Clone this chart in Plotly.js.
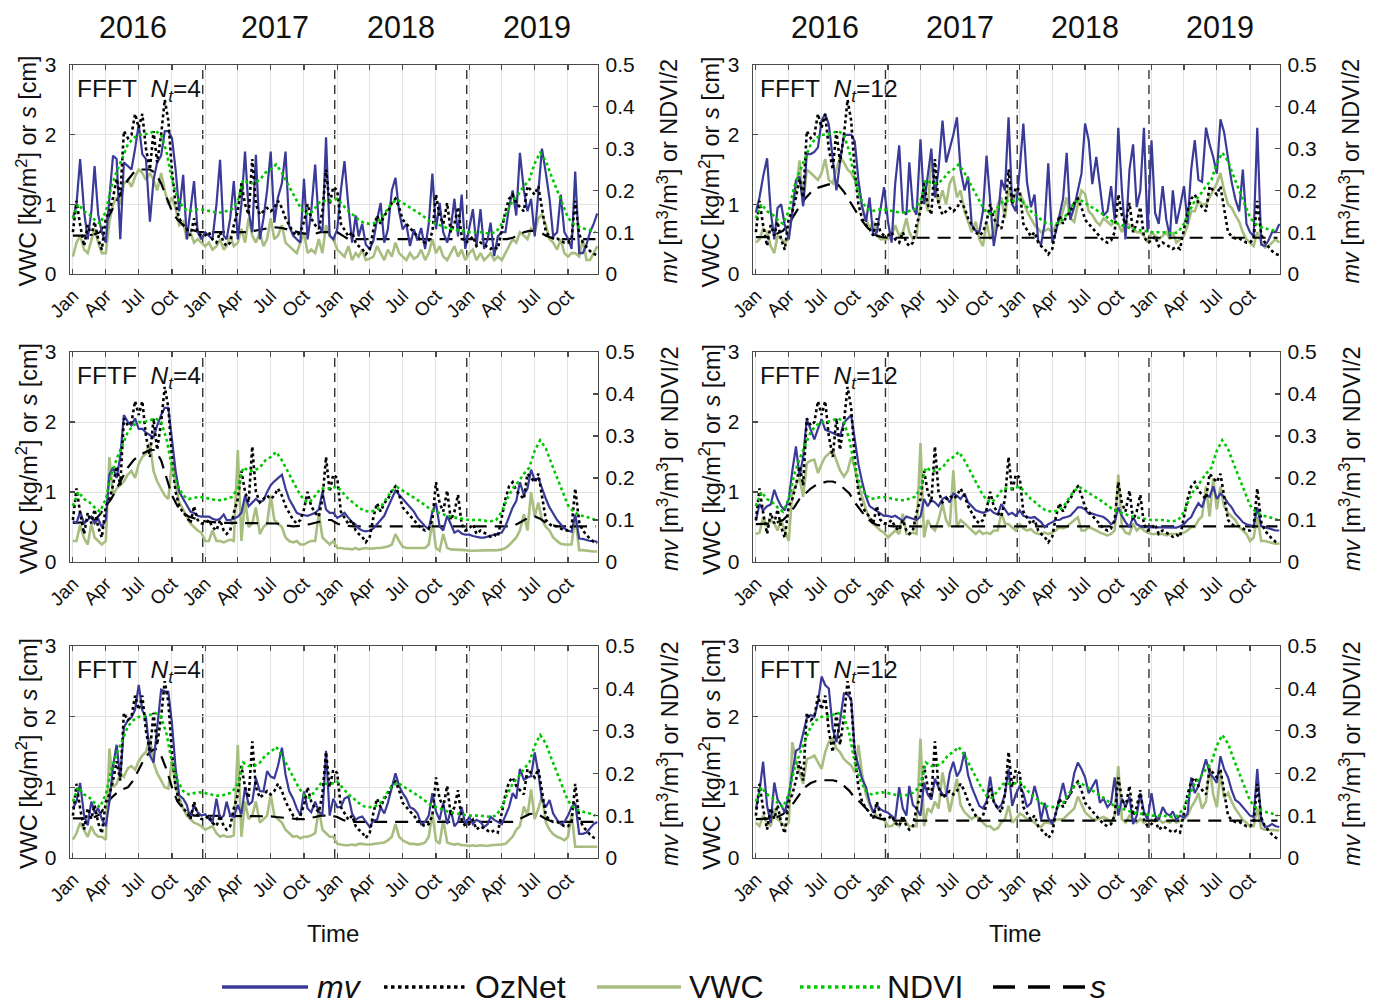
<!DOCTYPE html>
<html><head><meta charset="utf-8">
<script src="https://cdn.plot.ly/plotly-3.0.1.min.js"></script>
<style>body{margin:0;background:#fff}#chart{width:1379px;height:1005px}</style>
</head><body><div id="chart"></div>
<script>
// ---------- time grids (10-day and half-month steps, 2016-2019) ----------
const YEARS = [2016, 2017, 2018, 2019];
const MONTH_TICKS = ['Jan', 'Apr', 'Jul', 'Oct'];
function grid(days){const a=[];for(const y of YEARS)for(let m=1;m<=12;m++)for(const d of days)a.push(y+'-'+String(m).padStart(2,'0')+'-'+String(d).padStart(2,'0'));return a;}
const T10 = grid([1, 11, 21]);   // mv, OzNet, VWC
const T15 = grid([1, 16]);       // NDVI, s

// ---------- shared series (right axis, m3/m3) ----------
const OZNET = [
 0.100,0.175,0.117,0.067,0.117,0.092,0.125,0.083,0.058,0.133,0.150,0.183,0.228,0.183,0.342,0.325,0.333,0.383,0.350,0.383,0.300,0.250,0.342,0.267,0.333,0.417,0.367,0.245,0.167,0.133,0.117,0.108,0.092,0.133,0.100,0.092,
 0.092,0.100,0.083,0.075,0.100,0.075,0.067,0.075,0.117,0.150,0.217,0.167,0.142,0.275,0.167,0.142,0.150,0.158,0.150,0.158,0.175,0.158,0.133,0.117,0.100,0.092,0.100,0.125,0.167,0.133,0.117,0.108,0.150,0.250,0.167,0.208,
 0.200,0.120,0.107,0.090,0.100,0.075,0.067,0.060,0.047,0.060,0.107,0.140,0.120,0.140,0.150,0.170,0.180,0.160,0.130,0.120,0.110,0.100,0.090,0.080,0.075,0.080,0.100,0.190,0.140,0.120,0.170,0.100,0.120,0.160,0.090,0.075,
 0.080,0.090,0.067,0.075,0.070,0.065,0.060,0.065,0.060,0.107,0.150,0.180,0.190,0.170,0.160,0.150,0.210,0.200,0.190,0.210,0.160,0.100,0.090,0.085,0.085,0.080,0.075,0.075,0.085,0.175,0.095,0.075,0.065,0.055,0.048,0.045];
const NDVI_HALF = [
 0.133,0.167,0.150,0.142,0.130,0.120,0.150,0.208,0.245,0.275,0.310,0.325,0.333,0.333,0.338,0.342,0.333,0.292,0.225,0.183,0.158,0.150,0.153,0.155,
 0.153,0.150,0.147,0.147,0.150,0.155,0.175,0.225,0.217,0.217,0.225,0.242,0.250,0.262,0.242,0.217,0.192,0.167,0.147,0.142,0.158,0.175,0.175,0.175,
 0.180,0.165,0.150,0.140,0.130,0.122,0.120,0.122,0.130,0.150,0.170,0.178,0.170,0.162,0.155,0.145,0.135,0.125,0.120,0.115,0.110,0.107,0.105,0.103,
 0.100,0.100,0.100,0.098,0.097,0.100,0.120,0.150,0.175,0.190,0.210,0.225,0.265,0.290,0.270,0.235,0.200,0.165,0.135,0.120,0.112,0.108,0.105,0.100];

// ---------- mv per panel (right axis, m3/m3) ----------
const MV_FFFT_4 = [
 0.133,0.167,0.275,0.150,0.083,0.150,0.258,0.142,0.100,0.075,0.183,0.283,0.275,0.083,0.267,0.258,0.250,0.300,0.358,0.287,0.275,0.125,0.225,0.267,0.283,0.342,0.342,0.325,0.250,0.150,0.237,0.083,0.150,0.222,0.100,0.083,
 0.100,0.092,0.083,0.167,0.273,0.092,0.083,0.133,0.222,0.083,0.167,0.293,0.150,0.100,0.285,0.083,0.133,0.200,0.293,0.123,0.183,0.217,0.293,0.115,0.092,0.083,0.075,0.228,0.083,0.150,0.262,0.117,0.100,0.327,0.092,0.083,
 0.107,0.200,0.270,0.160,0.075,0.140,0.090,0.120,0.070,0.060,0.080,0.130,0.170,0.075,0.107,0.200,0.230,0.150,0.107,0.120,0.067,0.107,0.080,0.110,0.060,0.120,0.240,0.107,0.170,0.100,0.075,0.110,0.180,0.090,0.190,0.060,
 0.107,0.155,0.067,0.155,0.060,0.083,0.123,0.043,0.090,0.100,0.100,0.160,0.200,0.140,0.290,0.200,0.150,0.180,0.090,0.200,0.300,0.240,0.180,0.090,0.100,0.190,0.100,0.085,0.060,0.245,0.050,0.050,0.070,0.100,0.120,0.145];
const MV_FFFT_12 = [
 0.147,0.183,0.233,0.277,0.150,0.083,0.158,0.167,0.117,0.083,0.150,0.225,0.233,0.162,0.287,0.287,0.292,0.303,0.367,0.383,0.358,0.267,0.200,0.267,0.333,0.333,0.333,0.317,0.225,0.162,0.125,0.183,0.092,0.100,0.150,0.208,
 0.125,0.075,0.217,0.308,0.150,0.142,0.267,0.158,0.142,0.322,0.167,0.233,0.300,0.183,0.250,0.367,0.267,0.300,0.333,0.375,0.250,0.200,0.233,0.117,0.103,0.100,0.150,0.283,0.183,0.067,0.125,0.225,0.200,0.375,0.167,0.150,
 0.250,0.360,0.220,0.160,0.190,0.080,0.070,0.120,0.265,0.075,0.100,0.140,0.180,0.290,0.130,0.160,0.200,0.240,0.360,0.320,0.215,0.280,0.210,0.140,0.150,0.210,0.130,0.350,0.200,0.083,0.250,0.310,0.160,0.200,0.350,0.100,
 0.320,0.146,0.120,0.210,0.130,0.090,0.200,0.120,0.160,0.210,0.120,0.250,0.320,0.225,0.220,0.350,0.310,0.280,0.240,0.370,0.340,0.280,0.220,0.180,0.150,0.250,0.120,0.100,0.090,0.350,0.070,0.067,0.080,0.100,0.100,0.120];
const MV_FFTF_4 = [
 0.097,0.093,0.120,0.092,0.100,0.108,0.092,0.103,0.083,0.100,0.208,0.225,0.200,0.250,0.350,0.333,0.325,0.342,0.317,0.317,0.308,0.303,0.297,0.325,0.350,0.367,0.367,0.292,0.217,0.167,0.150,0.133,0.120,0.117,0.110,0.108,
 0.108,0.108,0.103,0.100,0.103,0.113,0.100,0.100,0.103,0.108,0.117,0.158,0.133,0.142,0.150,0.142,0.147,0.167,0.183,0.192,0.200,0.208,0.175,0.150,0.133,0.117,0.113,0.112,0.110,0.113,0.117,0.125,0.167,0.125,0.117,0.117,
 0.105,0.110,0.117,0.105,0.095,0.089,0.080,0.075,0.073,0.075,0.080,0.090,0.100,0.110,0.130,0.150,0.170,0.160,0.150,0.140,0.130,0.120,0.105,0.095,0.085,0.078,0.120,0.140,0.085,0.075,0.110,0.090,0.070,0.075,0.068,0.065,
 0.065,0.062,0.060,0.058,0.058,0.060,0.062,0.065,0.068,0.070,0.085,0.110,0.130,0.145,0.190,0.160,0.175,0.220,0.195,0.200,0.175,0.150,0.130,0.115,0.100,0.090,0.080,0.075,0.072,0.113,0.056,0.055,0.052,0.050,0.050,0.048];
const MV_FFTF_12 = [
 0.098,0.138,0.123,0.133,0.137,0.172,0.150,0.133,0.123,0.150,0.217,0.275,0.203,0.250,0.340,0.315,0.292,0.317,0.340,0.315,0.312,0.307,0.303,0.300,0.332,0.340,0.350,0.292,0.233,0.192,0.155,0.133,0.127,0.123,0.117,0.110,
 0.110,0.107,0.110,0.103,0.098,0.108,0.105,0.103,0.100,0.108,0.150,0.133,0.147,0.142,0.133,0.150,0.155,0.142,0.163,0.158,0.150,0.163,0.142,0.133,0.123,0.120,0.117,0.120,0.125,0.117,0.113,0.138,0.125,0.113,0.117,0.110,
 0.123,0.110,0.107,0.105,0.107,0.100,0.095,0.083,0.090,0.095,0.100,0.100,0.105,0.107,0.110,0.120,0.130,0.130,0.125,0.115,0.115,0.112,0.110,0.107,0.100,0.090,0.095,0.130,0.110,0.095,0.083,0.107,0.090,0.085,0.083,0.083,
 0.083,0.082,0.083,0.082,0.083,0.082,0.083,0.082,0.085,0.090,0.100,0.107,0.125,0.140,0.130,0.160,0.155,0.180,0.150,0.163,0.155,0.140,0.130,0.115,0.105,0.095,0.090,0.088,0.085,0.130,0.085,0.083,0.080,0.078,0.075,0.075];
const MV_FFTT_4 = [
 0.117,0.133,0.177,0.100,0.077,0.133,0.108,0.117,0.092,0.075,0.133,0.217,0.267,0.188,0.308,0.325,0.332,0.350,0.408,0.348,0.333,0.242,0.225,0.300,0.397,0.393,0.392,0.317,0.212,0.148,0.140,0.125,0.092,0.125,0.108,0.100,
 0.103,0.092,0.083,0.140,0.092,0.100,0.133,0.100,0.097,0.125,0.103,0.167,0.125,0.133,0.188,0.158,0.157,0.205,0.192,0.188,0.217,0.260,0.197,0.158,0.140,0.117,0.100,0.157,0.117,0.108,0.133,0.108,0.103,0.253,0.100,0.140,
 0.120,0.120,0.140,0.145,0.105,0.090,0.095,0.098,0.085,0.073,0.089,0.090,0.120,0.105,0.130,0.170,0.200,0.170,0.153,0.140,0.120,0.115,0.105,0.080,0.085,0.100,0.153,0.110,0.090,0.130,0.080,0.113,0.075,0.085,0.120,0.080,
 0.097,0.080,0.090,0.085,0.073,0.080,0.097,0.090,0.085,0.080,0.100,0.120,0.153,0.140,0.210,0.185,0.190,0.193,0.249,0.200,0.137,0.120,0.137,0.105,0.090,0.080,0.085,0.100,0.120,0.130,0.057,0.057,0.060,0.070,0.080,0.085];
const MV_FFTT_12 = [
 0.115,0.158,0.227,0.123,0.083,0.178,0.138,0.125,0.107,0.150,0.200,0.253,0.258,0.292,0.330,0.337,0.333,0.367,0.428,0.408,0.400,0.305,0.273,0.322,0.388,0.385,0.375,0.250,0.218,0.187,0.167,0.132,0.107,0.125,0.115,0.110,
 0.107,0.100,0.092,0.167,0.117,0.100,0.170,0.125,0.117,0.100,0.178,0.150,0.138,0.187,0.167,0.150,0.147,0.200,0.227,0.192,0.208,0.250,0.195,0.167,0.142,0.123,0.117,0.133,0.192,0.133,0.117,0.125,0.150,0.210,0.123,0.150,
 0.170,0.153,0.120,0.130,0.170,0.138,0.090,0.130,0.095,0.080,0.105,0.140,0.177,0.138,0.150,0.200,0.225,0.210,0.190,0.153,0.170,0.185,0.130,0.140,0.120,0.130,0.190,0.100,0.140,0.120,0.145,0.080,0.100,0.153,0.110,0.090,
 0.153,0.100,0.090,0.120,0.105,0.100,0.110,0.090,0.100,0.095,0.105,0.190,0.153,0.170,0.200,0.233,0.200,0.190,0.177,0.240,0.210,0.190,0.160,0.137,0.130,0.120,0.110,0.100,0.097,0.210,0.090,0.073,0.075,0.080,0.075,0.073];

// ---------- VWC per panel (left axis, kg/m2) ----------
const VWC_FFFT_4 = [
 0.25,0.45,0.55,0.35,0.30,0.50,0.65,0.45,0.30,0.30,0.75,1.00,1.10,1.00,1.30,1.35,1.25,1.40,1.50,1.45,1.35,1.45,1.35,1.20,1.45,1.20,1.00,1.10,0.95,0.70,0.75,0.50,0.60,0.45,0.50,0.45,
 0.40,0.45,0.35,0.40,0.50,0.35,0.40,0.55,0.40,0.45,0.65,0.45,0.80,0.55,0.45,0.60,0.40,0.50,0.80,0.50,0.55,0.70,0.45,0.40,0.35,0.30,0.45,0.60,0.30,0.35,0.30,0.50,0.30,0.70,0.55,0.50,
 0.35,0.30,0.25,0.40,0.20,0.30,0.25,0.35,0.20,0.22,0.25,0.40,0.30,0.20,0.35,0.25,0.45,0.30,0.25,0.20,0.30,0.22,0.25,0.35,0.20,0.30,0.50,0.30,0.40,0.25,0.20,0.30,0.40,0.25,0.35,0.20,
 0.30,0.35,0.20,0.30,0.20,0.25,0.30,0.20,0.25,0.20,0.30,0.40,0.50,0.45,0.60,0.55,0.50,0.65,0.60,0.80,0.85,0.70,0.50,0.45,0.35,0.50,0.30,0.25,0.30,0.30,0.25,0.50,0.20,0.20,0.30,0.40];
const VWC_FFFT_12 = [
 0.45,0.50,0.65,0.60,0.40,0.30,0.55,0.50,0.45,0.50,0.90,1.20,1.63,1.00,1.50,1.45,1.40,1.35,1.45,1.65,1.35,1.30,1.50,1.68,1.60,1.50,1.45,1.35,1.30,0.95,0.80,0.65,0.75,0.55,0.50,0.50,
 0.50,0.55,0.70,0.55,0.60,0.80,0.60,0.50,0.55,1.00,1.20,0.90,1.65,1.30,1.00,1.20,1.00,1.30,1.40,1.10,1.20,0.90,0.75,0.60,0.75,0.50,0.40,0.75,0.50,0.60,1.00,1.10,0.80,1.25,1.00,1.15,
 1.15,1.05,0.90,0.80,0.70,0.65,0.60,0.62,0.65,0.60,0.70,0.72,0.90,1.10,0.80,0.75,1.00,1.20,1.15,0.90,0.85,0.75,0.70,0.80,0.75,0.70,0.75,0.72,0.60,0.75,0.70,0.65,0.60,0.60,0.55,0.45,
 0.60,0.55,0.50,0.55,0.60,0.50,0.60,0.45,0.50,0.55,0.70,0.90,0.90,1.05,1.00,1.00,1.10,1.20,1.30,1.45,1.20,1.00,0.95,0.85,0.75,0.60,0.50,0.45,0.40,0.60,0.45,0.38,0.40,0.45,0.50,0.45];
const VWC_FFTF_4 = [
 0.30,0.30,0.53,0.34,0.25,0.55,0.35,0.30,0.25,0.30,1.50,0.95,1.05,1.10,1.15,1.25,1.30,1.20,1.40,1.50,1.55,1.70,1.30,1.15,1.05,0.95,0.90,1.45,1.10,0.85,0.75,0.65,0.55,0.50,0.45,0.42,
 0.30,0.30,0.45,0.30,0.30,0.28,0.30,0.32,0.30,1.60,0.30,0.90,0.50,0.55,0.78,0.40,0.50,0.55,0.95,0.60,0.55,0.50,0.35,0.30,0.28,0.30,0.25,0.25,0.28,0.30,0.30,0.70,0.35,0.30,0.25,0.30,
 0.20,0.20,0.19,0.19,0.18,0.20,0.18,0.19,0.20,0.19,0.20,0.20,0.20,0.21,0.22,0.25,0.40,0.30,0.22,0.20,0.20,0.20,0.19,0.19,0.20,0.25,0.58,0.20,0.16,0.40,0.20,0.18,0.18,0.18,0.17,0.17,
 0.16,0.16,0.17,0.17,0.17,0.16,0.17,0.17,0.17,0.18,0.20,0.24,0.30,0.35,0.45,0.68,0.45,1.00,0.65,0.85,0.60,0.50,0.45,0.35,0.30,0.26,0.25,0.25,0.25,0.65,0.17,0.17,0.16,0.16,0.15,0.15];
const VWC_FFTF_12 = [
 0.40,0.42,0.64,0.50,0.60,0.55,0.45,0.60,0.45,0.30,1.00,1.10,1.20,0.93,1.41,1.45,1.46,1.27,1.40,1.50,1.55,1.60,1.45,1.31,1.22,1.30,1.50,1.35,1.10,0.93,0.75,0.62,0.54,0.50,0.45,0.42,
 0.35,0.40,0.45,0.40,0.69,0.40,0.40,0.42,0.40,1.70,0.35,0.60,0.50,0.45,0.60,0.83,0.60,0.50,1.31,0.50,0.60,0.55,0.50,0.45,0.40,0.45,0.40,0.42,0.40,0.45,0.45,0.70,0.55,0.54,0.50,0.45,
 0.54,0.48,0.45,0.47,0.42,0.40,0.40,0.42,0.40,0.42,0.45,0.50,0.48,0.50,0.55,0.60,0.64,0.45,0.45,0.50,0.48,0.45,0.42,0.40,0.38,0.40,0.45,1.25,0.50,0.42,0.40,0.55,0.45,0.50,0.45,0.42,
 0.40,0.40,0.40,0.40,0.38,0.40,0.40,0.40,0.40,0.42,0.45,0.50,0.50,0.60,0.65,1.08,0.65,1.20,0.75,1.08,0.80,0.70,0.65,0.60,0.50,0.45,0.40,0.30,0.35,0.65,0.30,0.30,0.28,0.27,0.26,0.26];
const VWC_FFTT_4 = [
 0.26,0.35,0.50,0.40,0.30,0.45,0.35,0.30,0.30,0.26,1.55,1.00,1.05,1.20,1.15,1.27,1.30,1.25,1.37,1.45,1.50,1.70,1.35,1.20,1.10,1.00,0.98,1.40,1.00,0.85,0.70,0.60,0.55,0.50,0.48,0.45,
 0.40,0.42,0.45,0.35,0.30,0.32,0.30,0.30,0.32,1.60,0.30,0.80,0.55,0.60,0.80,0.50,0.55,0.60,0.90,0.60,0.55,0.50,0.40,0.35,0.30,0.31,0.28,0.30,0.30,0.32,0.35,0.70,0.40,0.35,0.30,0.30,
 0.20,0.19,0.18,0.18,0.19,0.18,0.20,0.20,0.19,0.19,0.20,0.21,0.22,0.22,0.25,0.30,0.48,0.30,0.25,0.22,0.20,0.20,0.19,0.20,0.22,0.30,0.63,0.25,0.20,0.54,0.22,0.20,0.19,0.20,0.18,0.18,
 0.17,0.18,0.17,0.18,0.17,0.17,0.18,0.18,0.18,0.19,0.20,0.25,0.30,0.40,0.45,0.73,0.60,0.97,0.55,0.70,0.87,0.50,0.40,0.34,0.30,0.28,0.25,0.30,0.63,0.16,0.16,0.16,0.17,0.16,0.16,0.16];
const VWC_FFTT_12 = [
 0.50,0.45,0.60,0.50,0.45,0.70,0.55,0.50,0.45,0.50,1.64,1.36,1.20,1.05,1.40,1.42,1.45,1.35,1.26,1.50,1.64,1.69,1.55,1.50,1.40,1.35,1.31,1.21,1.60,1.20,0.90,0.75,0.65,0.60,0.55,0.55,
 0.45,0.45,0.50,0.45,0.55,0.50,0.45,0.45,0.45,1.69,0.45,0.70,0.65,0.80,0.70,1.21,0.90,0.65,0.90,1.12,0.75,0.65,0.60,0.55,0.60,0.55,0.50,0.45,0.45,0.40,0.42,0.50,0.55,0.74,0.50,0.55,
 0.63,0.60,0.55,0.54,0.50,0.45,0.44,0.50,0.50,0.48,0.54,0.55,0.55,0.60,0.65,0.70,0.87,0.75,0.65,0.60,0.55,0.54,0.56,0.58,0.55,0.50,0.60,1.30,0.55,0.50,0.60,0.55,0.50,0.55,0.50,0.54,
 0.54,0.52,0.55,0.50,0.52,0.50,0.55,0.50,0.52,0.55,0.60,0.72,0.80,0.92,0.70,0.80,1.30,0.90,0.72,1.20,0.85,0.92,0.80,0.70,0.62,0.54,0.50,0.44,0.45,0.70,0.42,0.40,0.40,0.40,0.39,0.39];

// ---------- s per panel (left axis, cm; half-month steps) ----------
const S_FFFT_4 = [
 0.55,0.55,0.55,0.55,0.57,0.60,0.75,0.90,1.05,1.20,1.35,1.45,1.50,1.50,1.50,1.45,1.30,1.10,0.90,0.78,0.70,0.65,0.62,0.60,
 0.60,0.60,0.60,0.60,0.60,0.60,0.60,0.60,0.60,0.62,0.63,0.65,0.66,0.67,0.66,0.64,0.62,0.60,0.58,0.58,0.58,0.60,0.60,0.60,
 0.60,0.55,0.50,0.50,0.50,0.50,0.50,0.50,0.50,0.50,0.50,0.50,0.50,0.50,0.50,0.50,0.50,0.50,0.50,0.50,0.50,0.50,0.50,0.50,
 0.50,0.50,0.50,0.50,0.50,0.50,0.50,0.50,0.52,0.55,0.60,0.62,0.62,0.60,0.55,0.52,0.50,0.50,0.50,0.50,0.50,0.50,0.50,0.50];
const S_FFFT_12 = [
 0.53,0.53,0.53,0.55,0.58,0.62,0.72,0.85,0.97,1.08,1.17,1.23,1.26,1.28,1.30,1.28,1.18,1.05,0.92,0.80,0.69,0.60,0.55,0.53,
 0.52,0.52,0.52,0.52,0.52,0.52,0.52,0.52,0.52,0.52,0.52,0.52,0.52,0.52,0.52,0.52,0.52,0.52,0.52,0.52,0.52,0.52,0.52,0.52,
 0.52,0.52,0.52,0.52,0.52,0.52,0.52,0.52,0.52,0.52,0.52,0.52,0.52,0.52,0.52,0.52,0.52,0.52,0.52,0.52,0.52,0.52,0.52,0.52,
 0.52,0.52,0.52,0.52,0.52,0.52,0.52,0.52,0.52,0.52,0.52,0.52,0.52,0.52,0.52,0.52,0.52,0.52,0.52,0.52,0.52,0.52,0.52,0.52];
const S_FFTF_4 = [
 0.56,0.56,0.56,0.57,0.60,0.68,0.80,0.90,1.05,1.20,1.35,1.45,1.52,1.56,1.60,1.60,1.45,1.20,0.95,0.80,0.70,0.65,0.62,0.60,
 0.58,0.57,0.56,0.56,0.56,0.56,0.56,0.56,0.56,0.55,0.55,0.55,0.55,0.55,0.54,0.52,0.51,0.51,0.52,0.54,0.56,0.58,0.60,0.60,
 0.55,0.52,0.51,0.51,0.51,0.51,0.51,0.51,0.51,0.51,0.51,0.51,0.51,0.51,0.51,0.51,0.51,0.51,0.51,0.51,0.51,0.51,0.51,0.51,
 0.51,0.51,0.51,0.51,0.51,0.51,0.51,0.51,0.51,0.55,0.60,0.64,0.65,0.62,0.56,0.53,0.51,0.51,0.51,0.51,0.51,0.51,0.51,0.51];
const S_FFTF_12 = [
 0.54,0.54,0.54,0.55,0.57,0.60,0.68,0.78,0.90,0.98,1.05,1.10,1.13,1.15,1.15,1.12,1.05,0.98,0.85,0.74,0.64,0.57,0.53,0.52,
 0.51,0.51,0.51,0.51,0.51,0.51,0.51,0.51,0.51,0.51,0.51,0.51,0.51,0.51,0.51,0.51,0.51,0.51,0.51,0.51,0.51,0.51,0.51,0.51,
 0.51,0.51,0.51,0.51,0.51,0.51,0.51,0.51,0.51,0.51,0.51,0.51,0.51,0.51,0.51,0.51,0.51,0.51,0.51,0.51,0.51,0.51,0.51,0.51,
 0.51,0.51,0.51,0.51,0.51,0.51,0.51,0.51,0.51,0.51,0.51,0.51,0.51,0.51,0.51,0.51,0.51,0.51,0.51,0.51,0.51,0.51,0.51,0.51];
const S_FFTT_4 = [
 0.56,0.56,0.56,0.56,0.58,0.62,0.75,0.85,0.92,0.97,1.00,1.10,1.25,1.40,1.50,1.55,1.45,1.25,1.00,0.80,0.70,0.64,0.60,0.60,
 0.60,0.60,0.60,0.60,0.60,0.60,0.60,0.60,0.60,0.60,0.60,0.60,0.59,0.58,0.57,0.56,0.55,0.55,0.55,0.56,0.58,0.60,0.60,0.60,
 0.58,0.54,0.51,0.51,0.51,0.51,0.51,0.51,0.51,0.51,0.51,0.51,0.51,0.51,0.51,0.51,0.51,0.51,0.51,0.51,0.51,0.51,0.51,0.51,
 0.51,0.51,0.51,0.51,0.51,0.51,0.51,0.51,0.51,0.54,0.58,0.62,0.63,0.60,0.55,0.52,0.51,0.51,0.51,0.51,0.51,0.51,0.51,0.51];
const S_FFTT_12 = [
 0.55,0.55,0.55,0.56,0.58,0.62,0.70,0.79,0.90,1.00,1.06,1.09,1.10,1.10,1.10,1.08,1.02,0.95,0.85,0.79,0.70,0.62,0.57,0.55,
 0.53,0.53,0.53,0.53,0.53,0.53,0.53,0.53,0.53,0.53,0.53,0.53,0.53,0.53,0.53,0.53,0.53,0.53,0.53,0.53,0.53,0.53,0.53,0.53,
 0.53,0.53,0.53,0.53,0.53,0.53,0.53,0.53,0.53,0.53,0.53,0.53,0.53,0.53,0.53,0.53,0.53,0.53,0.53,0.53,0.53,0.53,0.53,0.53,
 0.53,0.53,0.53,0.53,0.53,0.53,0.53,0.53,0.53,0.53,0.53,0.53,0.53,0.53,0.53,0.53,0.53,0.53,0.53,0.53,0.53,0.53,0.53,0.53];

// ---------- panel definitions ----------
const PANELS = [
 {code:'FFFT', nt:4,  mv:MV_FFFT_4,  vwc:VWC_FFFT_4,  s:S_FFFT_4,  row:0, col:0},
 {code:'FFFT', nt:12, mv:MV_FFFT_12, vwc:VWC_FFFT_12, s:S_FFFT_12, row:0, col:1},
 {code:'FFTF', nt:4,  mv:MV_FFTF_4,  vwc:VWC_FFTF_4,  s:S_FFTF_4,  row:1, col:0},
 {code:'FFTF', nt:12, mv:MV_FFTF_12, vwc:VWC_FFTF_12, s:S_FFTF_12, row:1, col:1},
 {code:'FFTT', nt:4,  mv:MV_FFTT_4,  vwc:VWC_FFTT_4,  s:S_FFTT_4,  row:2, col:0},
 {code:'FFTT', nt:12, mv:MV_FFTT_12, vwc:VWC_FFTT_12, s:S_FFTT_12, row:2, col:1}];
const YEAR_LINES = ['2016-12-25', '2017-12-25', '2018-12-25'];
const X_RANGE = ['2015-12-24', '2019-12-23'];

// ---------- geometry ----------
const W = 1379, H = 1005;
const px = x => x / W, py = y => 1 - y / H;
const COLX = [[70, 598], [753, 1280]];
const ROWY = [[65, 274], [352, 562], [646, 858]];

const C_MV = 'rgb(58,58,152)', C_OZ = '#000', C_VWC = 'rgb(168,190,128)', C_NDVI = 'rgb(0,200,0)', C_S = '#000';
const FONT = 'Arial, "Liberation Sans", sans-serif';
const AXC = '#4a4a4a';

const tickvals = [], ticktext = [];
for (const y of YEARS) ['01','04','07','10'].forEach((m, i) => { tickvals.push(y + '-' + m + '-01'); ticktext.push(MONTH_TICKS[i]); });

const data = [];
const layout = {
  width: W, height: H, margin: {l: 0, r: 0, t: 0, b: 0},
  paper_bgcolor: '#fff', plot_bgcolor: '#fff', showlegend: false,
  font: {family: FONT, color: '#111', size: 20},
  shapes: [], annotations: []
};

PANELS.forEach((p, k) => {
  const n = k + 1, nr = k + 7;
  const xa = 'x' + (n === 1 ? '' : n), ya = 'y' + (n === 1 ? '' : n), yr = 'y' + nr;
  const xd = [px(COLX[p.col][0]), px(COLX[p.col][1])];
  const yd = [py(ROWY[p.row][1]), py(ROWY[p.row][0])];
  layout['xaxis' + (n === 1 ? '' : n)] = {
    domain: xd, anchor: ya, type: 'date', range: X_RANGE,
    tickmode: 'array', tickvals: tickvals, ticktext: ticktext, tickangle: -45,
    tickfont: {size: 19, family: FONT, color: '#111'}, ticklabelstandoff: 2,
    ticks: 'inside', ticklen: 5, tickwidth: 1.2, tickcolor: AXC,
    showline: true, linecolor: AXC, linewidth: 1.3, mirror: 'ticks',
    showgrid: true, gridcolor: '#e2e2e2', gridwidth: 1, zeroline: false
  };
  layout['yaxis' + (n === 1 ? '' : n)] = {
    domain: yd, anchor: xa, range: [0, 3], tickmode: 'array', tickvals: [0, 1, 2, 3],
    tickfont: {size: 21, family: FONT, color: '#111'}, ticklabelstandoff: 8,
    ticks: 'inside', ticklen: 5, tickwidth: 1.2, tickcolor: AXC,
    showline: true, linecolor: AXC, linewidth: 1.3,
    showgrid: true, gridcolor: '#e2e2e2', gridwidth: 1, zeroline: false
  };
  layout['yaxis' + nr] = {
    overlaying: ya, side: 'right', anchor: xa, range: [0, 0.5],
    tickmode: 'array', tickvals: [0, 0.1, 0.2, 0.3, 0.4, 0.5],
    tickfont: {size: 21, family: FONT, color: '#111'}, ticklabelstandoff: 2,
    ticks: 'inside', ticklen: 5, tickwidth: 1.2, tickcolor: AXC,
    showline: true, linecolor: AXC, linewidth: 1.3, showgrid: false, zeroline: false
  };

  // traces
  data.push({x: T10, y: p.vwc, xaxis: xa, yaxis: ya, type: 'scatter', mode: 'lines', name: 'VWC',
             line: {color: C_VWC, width: 2.6}, hoverinfo: 'skip'});
  data.push({x: T15, y: p.s, xaxis: xa, yaxis: ya, type: 'scatter', mode: 'lines', name: 's',
             line: {color: C_S, width: 2.2, dash: '13px,8px'}, hoverinfo: 'skip'});
  data.push({x: T10, y: p.mv, xaxis: xa, yaxis: yr, type: 'scatter', mode: 'lines', name: 'mv',
             line: {color: C_MV, width: 2.2}, hoverinfo: 'skip'});
  data.push({x: T10, y: OZNET, xaxis: xa, yaxis: yr, type: 'scatter', mode: 'lines', name: 'OzNet',
             line: {color: C_OZ, width: 2.6, dash: 'dot'}, hoverinfo: 'skip'});
  data.push({x: T15, y: NDVI_HALF, xaxis: xa, yaxis: yr, type: 'scatter', mode: 'lines', name: 'NDVI',
             line: {color: C_NDVI, width: 2.6, dash: 'dot'}, hoverinfo: 'skip'});

  // year separators
  YEAR_LINES.forEach(d => layout.shapes.push({
    type: 'line', xref: xa, yref: ya + ' domain', x0: d, x1: d, y0: 0, y1: 1, layer: 'below',
    line: {color: '#333', width: 1.4, dash: '9px,6px'}
  }));

  // panel label
  layout.annotations.push({
    xref: 'paper', yref: 'paper', x: px(COLX[p.col][0] + 5), y: py(ROWY[p.row][0] + 25),
    xanchor: 'left', yanchor: 'middle', showarrow: false,
    text: p.code + '&#160;&#160;<i>N<sub>t</sub></i>=' + p.nt, font: {size: 24.5, family: FONT, color: '#111'}
  });
  // axis titles
  const yc = py((ROWY[p.row][0] + ROWY[p.row][1]) / 2 + 2);
  layout.annotations.push({
    xref: 'paper', yref: 'paper', x: px(COLX[p.col][0] - 43), y: yc, textangle: -90,
    xanchor: 'center', yanchor: 'middle', showarrow: false,
    text: 'VWC [kg/m<sup>2</sup>] or <i>s</i> [cm]', font: {size: 23.5, family: FONT, color: '#111'}
  });
  layout.annotations.push({
    xref: 'paper', yref: 'paper', x: px(COLX[p.col][1] + 70), y: yc, textangle: -90,
    xanchor: 'center', yanchor: 'middle', showarrow: false,
    text: '<i>mv</i> [m<sup>3</sup>/m<sup>3</sup>] or NDVI/2', font: {size: 23.5, family: FONT, color: '#111'}
  });
});

// year headers
[[133, '2016'], [275, '2017'], [401, '2018'], [537, '2019'],
 [825, '2016'], [960, '2017'], [1085, '2018'], [1220, '2019']].forEach(([x, t]) =>
  layout.annotations.push({xref: 'paper', yref: 'paper', x: px(x), y: py(27), xanchor: 'center', yanchor: 'middle',
    showarrow: false, text: t, font: {size: 30.5, family: FONT, color: '#111'}}));

// Time labels
[333, 1015].forEach(x => layout.annotations.push({xref: 'paper', yref: 'paper', x: px(x), y: py(933),
  xanchor: 'center', yanchor: 'middle', showarrow: false, text: 'Time', font: {size: 24, family: FONT, color: '#111'}}));

// legend (drawn manually)
const LEG_Y = py(987);
const LEGEND = [
  {x0: 222, x1: 308, tx: 315, text: '<i>mv</i>', color: C_MV, width: 3.5, dash: 'solid'},
  {x0: 384, x1: 466, tx: 473, text: 'OzNet', color: C_OZ, width: 3.5, dash: 'dot'},
  {x0: 597, x1: 681, tx: 687, text: 'VWC', color: C_VWC, width: 3.5, dash: 'solid'},
  {x0: 800, x1: 880, tx: 885, text: 'NDVI', color: C_NDVI, width: 3.5, dash: 'dot'},
  {x0: 993, x1: 1085, tx: 1088, text: '<i>s</i>', color: C_S, width: 3.5, dash: '22px,13px'}];
LEGEND.forEach(l => {
  layout.shapes.push({type: 'line', xref: 'paper', yref: 'paper', x0: px(l.x0), x1: px(l.x1), y0: LEG_Y, y1: LEG_Y,
    line: {color: l.color, width: l.width, dash: l.dash}});
  layout.annotations.push({xref: 'paper', yref: 'paper', x: px(l.tx), y: LEG_Y, xanchor: 'left', yanchor: 'middle',
    showarrow: false, text: l.text, font: {size: 32, family: FONT, color: '#111'}});
});

Plotly.newPlot('chart', data, layout, {displayModeBar: false, staticPlot: true});
</script>
</body></html>
